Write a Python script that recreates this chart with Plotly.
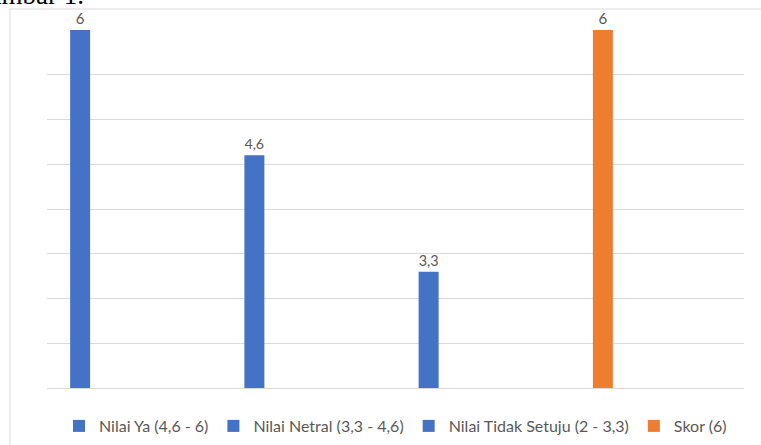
import plotly.graph_objects as go

# ---- data ----
series_names = ["Nilai Ya (4,6 - 6)", "Nilai Netral (3,3 - 4,6)",
                "Nilai Tidak Setuju (2 - 3,3)", "Skor (6)"]
values = [6, 4.6, 3.3, 6]
colors = ["#4472C4", "#4472C4", "#4472C4", "#ED7D31"]
y_min, y_max, y_step = 2, 6, 0.5

W, H = 761, 445
ml, mr, mt, mb = 47, 17, 30, 57
pw, ph = W - ml - mr, H - mt - mb

fig = go.Figure()
for name, v, c in zip(series_names, values, colors):
    fig.add_trace(go.Bar(
        x=[name], y=[v], name=name,
        marker=dict(color=c, line=dict(width=0)),
        width=20 / (pw / 4), offset=-64 / (pw / 4),
        texttemplate="%{y}", textposition="outside",
        textfont=dict(color="#595959", size=15, family="Lato"),
        cliponaxis=False,
    ))

fig.update_layout(
    width=W, height=H,
    margin=dict(l=ml, r=mr, t=mt, b=mb, autoexpand=False),
    paper_bgcolor="white", plot_bgcolor="white",
    barmode="overlay",
    separators=",.",
    font=dict(family="Lato", size=16, color="#595959"),
    xaxis=dict(categoryorder="array", categoryarray=series_names,
               showticklabels=False, showgrid=False, zeroline=False,
               showline=True, linecolor="#d9d9d9", linewidth=1, ticks=""),
    yaxis=dict(range=[y_min, y_max], dtick=y_step, tick0=y_min,
               showticklabels=False, showgrid=True, gridcolor="#d9d9d9",
               gridwidth=1, zeroline=False, showline=False, ticks=""),
    legend=dict(orientation="h", x=0.5, xanchor="center",
                y=(388 - 426) / ph, yanchor="middle",
                font=dict(size=16, color="#595959", family="Lato"),
                itemwidth=30, tracegroupgap=0),
    showlegend=True,
)

# chart frame (light grey border, partially visible)
fig.add_shape(type="rect", xref="paper", yref="paper",
              x0=(10 - ml) / pw, x1=1.2, y0=-0.4, y1=1 + (mt - 9) / ph,
              line=dict(color="#d9d9d9", width=1), fillcolor="rgba(0,0,0,0)",
              layer="below")

# cut-off caption text above the chart (pixel y = 12 for its box bottom)
fig.add_annotation(text="Gambar 1.", xref="paper", yref="paper",
                   x=(86 - ml) / pw, xanchor="right",
                   y=1 + (mt - 12) / ph, yanchor="bottom",
                   showarrow=False,
                   font=dict(family="Liberation Serif", size=27, color="black"))

fig.write_html("out.html", config={"displayModeBar": False},
               post_script="document.body.style.margin='0';document.body.style.overflow='hidden';")
